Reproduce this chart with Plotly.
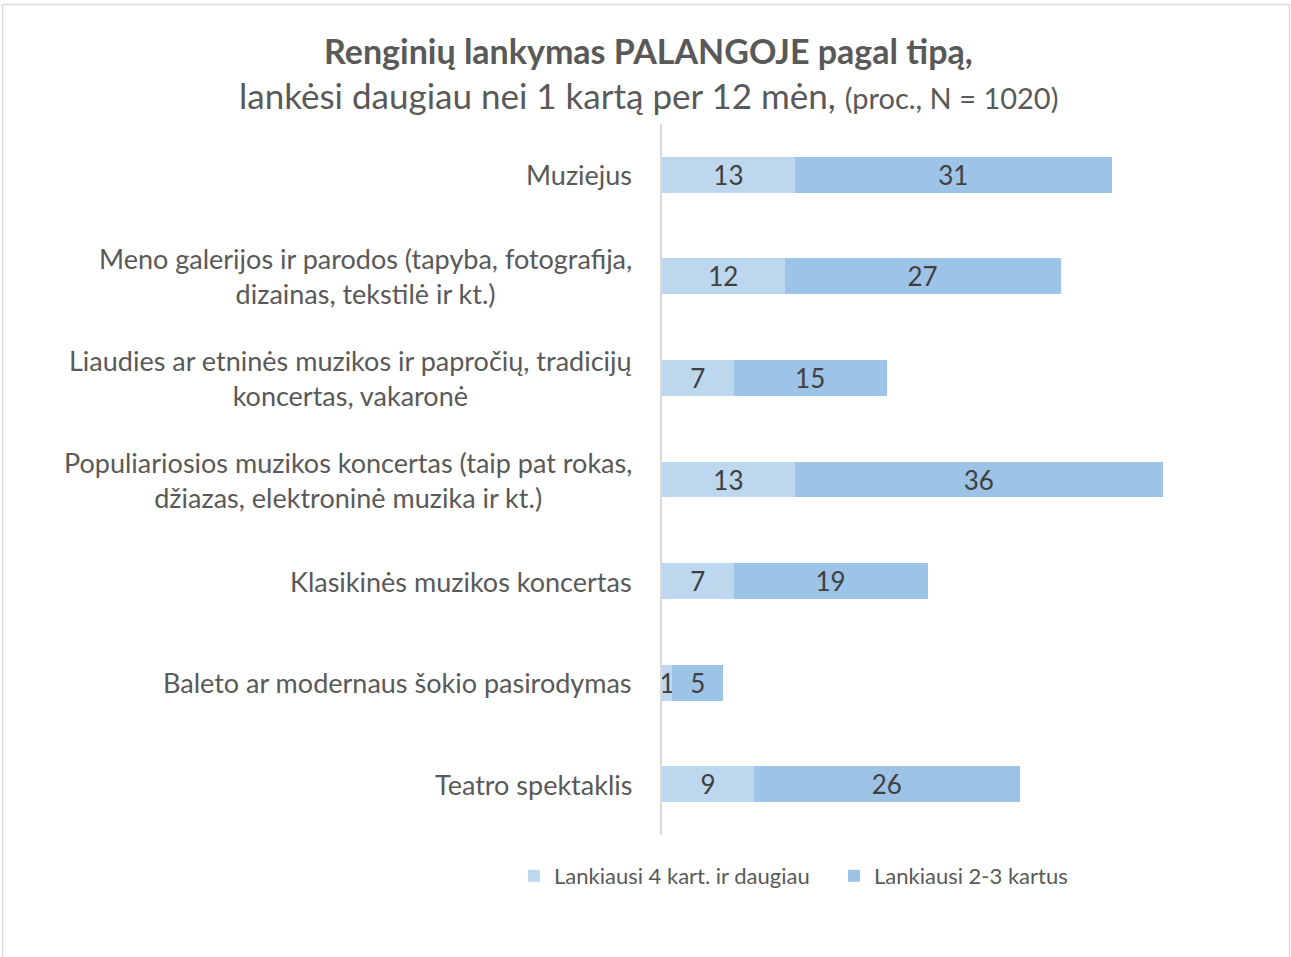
import plotly.graph_objects as go

categories = [
    "Muziejus",
    "Meno galerijos ir parodos (tapyba, fotografija,<br>dizainas, tekstilė ir kt.)",
    "Liaudies ar etninės muzikos ir papročių, tradicijų<br>koncertas, vakaronė",
    "Populiariosios muzikos koncertas (taip pat rokas,<br>džiazas, elektroninė muzika ir kt.)",
    "Klasikinės muzikos koncertas",
    "Baleto ar modernaus šokio pasirodymas",
    "Teatro spektaklis",
]
often = [13, 12, 7, 13, 7, 1, 9]        # Lankiausi 4 kart. ir daugiau
sometimes = [31, 27, 15, 36, 19, 5, 26]  # Lankiausi 2-3 kartus
series_names = ["Lankiausi 4 kart. ir daugiau", "Lankiausi 2-3 kartus"]
title_line1 = "Renginių lankymas PALANGOJE pagal tipą,"
title_line2 = "lankėsi daugiau nei 1 kartą per 12 mėn,"
title_note = "(proc., N = 1020)"

W, H = 1291, 957
L, R, T, B = 662, 20, 124, 122
PW, PH = W - L - R, H - T - B

def px_x(px):
    return (px - L) / PW

def px_y(py):
    return 1 - (py - T) / PH

FONT = "Lato, 'Open Sans', sans-serif"
c_light = "#BDD7EE"
c_dark = "#9DC3E6"
txt = "#404040"
grey = "#595959"

fig = go.Figure()
for vals, name, col in [(often, series_names[0], c_light), (sometimes, series_names[1], c_dark)]:
    fig.add_trace(go.Bar(
        orientation="h", y=categories, x=vals, name=name,
        marker=dict(color=col, line=dict(width=0)),
        texttemplate="%{x}", textposition="inside", insidetextanchor="middle",
        textangle=0, constraintext="none",
        textfont=dict(family=FONT, size=26, color=txt),
        hoverinfo="skip",
    ))

annotations = []
for c in categories:
    annotations.append(dict(
        x=0, y=c, xref="x", yref="y", xanchor="right", yanchor="middle",
        xshift=-28, text=c, showarrow=False, align="center",
        font=dict(family=FONT, size=27, color=grey),
    ))

annotations.append(dict(
    x=px_x(648), y=px_y(50), xref="paper", yref="paper", xanchor="center", yanchor="middle",
    text=f"<b>{title_line1}</b>", showarrow=False,
    font=dict(family=FONT, size=34, color=grey),
))
annotations.append(dict(
    x=px_x(648), y=px_y(95), xref="paper", yref="paper", xanchor="center", yanchor="middle",
    text=f"{title_line2} <span style='font-size:29px'>{title_note}</span>", showarrow=False,
    font=dict(family=FONT, size=35, color=grey),
))

fig.update_layout(
    width=W, height=H,
    margin=dict(l=L, r=R, t=T, b=B, pad=0),
    barmode="stack", bargap=0.646,
    paper_bgcolor="white", plot_bgcolor="white",
    font=dict(family=FONT, color=grey),
    showlegend=True,
    legend=dict(
        orientation="h", x=px_x(514), xanchor="left", y=px_y(876), yanchor="middle",
        font=dict(family=FONT, size=22, color=grey), bgcolor="rgba(0,0,0,0)",
        traceorder="normal", entrywidth=275,
    ),
    xaxis=dict(range=[0, 59.6], visible=False, fixedrange=True),
    yaxis=dict(
        categoryorder="array", categoryarray=categories, autorange="reversed",
        showticklabels=False, ticks="", showgrid=False, zeroline=False,
        showline=True, linecolor="#d9d9d9", linewidth=1.5, fixedrange=True,
    ),
    annotations=annotations,
    shapes=[dict(
        type="rect", xref="paper", yref="paper",
        x0=px_x(2.5), x1=px_x(1289.5), y0=px_y(962), y1=px_y(4.5),
        line=dict(color="#d9d9d9", width=1.5), fillcolor="rgba(0,0,0,0)", layer="below",
    )],
)

fig.write_html("out.html", config={"displayModeBar": False},
               post_script="document.body.style.margin='0';")
